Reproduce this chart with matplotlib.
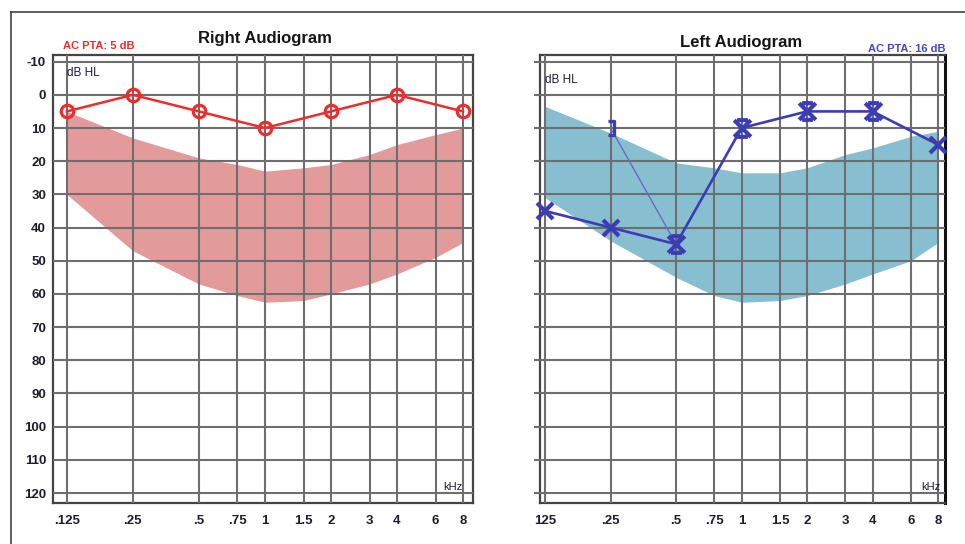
import numpy as np
import matplotlib
matplotlib.use("Agg")
import matplotlib.pyplot as plt
from matplotlib.path import Path
from matplotlib.lines import Line2D

plt.rcParams['font.family'] = ['Liberation Sans', 'DejaVu Sans']
plt.rcParams['axes.unicode_minus'] = False

# frequencies (kHz) and labels
freqs = [0.125, 0.25, 0.5, 0.75, 1, 1.5, 2, 3, 4, 6, 8]
freq_labels_r = [".125", ".25", ".5", ".75", "1", "1.5", "2", "3", "4", "6", "8"]
freq_labels_l = ["125", ".25", ".5", ".75", "1", "1.5", "2", "3", "4", "6", "8"]
db_ticks = [-10, 0, 10, 20, 30, 40, 50, 60, 70, 80, 90, 100, 110, 120]

# shaded range (upper / lower edge, dB HL) at each frequency
band_r_top = [5, 13, 19, 21, 23, 22, 21, 18, 15, 12, 10]
band_r_bot = [30, 47, 57, 60.5, 62.5, 62, 60, 57, 54, 49, 44.5]
band_l_top = [3.5, 11.5, 20.5, 22, 23.5, 23.5, 22, 18, 16, 12.5, 11]
band_l_bot = [31, 44, 55, 60.5, 62.5, 62, 60.5, 57, 54, 50, 44.5]

# right ear air conduction (circles)
right_f = [0.125, 0.25, 0.5, 1, 2, 4, 8]
right_db = [5, 0, 5, 10, 5, 0, 5]

# left ear air conduction (X)
left_f = [0.125, 0.25, 0.5, 1, 2, 4, 8]
left_db = [35, 40, 45, 10, 5, 5, 15]
left_masked = [False, False, True, True, True, True, False]

# left bone conduction
bone_f = [0.25, 0.5]
bone_db = [10, 45]

red = '#ec2d2d'
blue = '#3c3cb4'
grid_c = '#6e6e6e'
txt_c = '#1e1e2a'

hourglass = Path([(-1, -1), (1, 1), (-1, 1), (1, -1), (-0.65, 1), (0.65, 1), (-0.65, -1), (0.65, -1)],
                 [Path.MOVETO, Path.LINETO, Path.MOVETO, Path.LINETO,
                  Path.MOVETO, Path.LINETO, Path.MOVETO, Path.LINETO])
bracket = Path([(-0.5, 1), (0.5, 1), (0.5, -1), (-0.5, -1)],
               [Path.MOVETO, Path.LINETO, Path.LINETO, Path.LINETO])

fig = plt.figure(figsize=(9.65, 5.44), dpi=100)

# outer frame (left + top edge)
fig.add_artist(Line2D([11/965, 11/965], [0, 1 - 12/544], transform=fig.transFigure, color='#333', lw=1.1))
fig.add_artist(Line2D([11/965, 1], [1 - 12/544, 1 - 12/544], transform=fig.transFigure, color='#333', lw=1.1))

axR = fig.add_axes([53/965, 1 - 503/544, 420/965, 448/544])
axL = fig.add_axes([540/965, 1 - 503/544, 405/965, 448/544])

for ax, labels, xl in [(axR, freq_labels_r, (0.1081, 8.89)), (axL, freq_labels_l, (0.1184, 8.61))]:
    ax.set_xscale('log', base=2)
    ax.set_xlim(*xl)
    ax.set_ylim(123, -12)
    ax.set_xticks(freqs)
    ax.set_xticklabels(labels)
    ax.minorticks_off()
    ax.set_yticks(db_ticks)
    ax.grid(True, color=grid_c, lw=1.5)
    ax.set_axisbelow(False)
    for s in ax.spines.values():
        s.set_color('#444444')
        s.set_linewidth(1.6)
    ax.tick_params(axis='x', length=0, pad=9, labelsize=9.5, labelcolor=txt_c)
    ax.tick_params(axis='y', length=0, pad=5, labelsize=9.5, labelcolor=txt_c)
    for t in ax.get_xticklabels() + ax.get_yticklabels():
        t.set_fontweight('bold')

axL.tick_params(axis='y', labelleft=False, length=4, direction='out', color=grid_c, width=1.5)
axL.spines['right'].set_color('#111111')
axL.spines['right'].set_linewidth(2.2)

# right ear
axR.fill_between(freqs, band_r_top, band_r_bot, color='#e39a9a', lw=0, zorder=1)
axR.plot(right_f, right_db, color=red, lw=1.8, marker='o', ms=9, mfc='none', mec=red, mew=2.3,
         zorder=4, clip_on=False)

# left ear
axL.fill_between(freqs, band_l_top, band_l_bot, color='#88bfd0', lw=0, zorder=1)
axL.plot(bone_f, bone_db, color='#6a6ac8', lw=1.0, zorder=3)
axL.plot(left_f, left_db, color=blue, lw=1.9, zorder=4)
for f, d, m in zip(left_f, left_db, left_masked):
    axL.plot([f], [d], marker=hourglass if m else 'x', ms=12 if m else 11, mew=3, color=blue,
             zorder=5, clip_on=False)
axL.plot([bone_f[0]], [bone_db[0]], marker=bracket, ms=10, mew=2.4, color=blue, mfc='none',
         zorder=5)

# titles and annotations
fig.text(265/965, 1 - 38/544, "Right Audiogram", ha='center', va='center', fontsize=12,
         fontweight='bold', color='#151515')
fig.text(741/965, 1 - 42/544, "Left Audiogram", ha='center', va='center', fontsize=12,
         fontweight='bold', color='#151515')
fig.text(63/965, 1 - 46/544, "AC PTA: 5 dB", ha='left', va='center', fontsize=8, color=red,
         fontweight='bold')
fig.text(945/965, 1 - 49/544, "AC PTA: 16 dB", ha='right', va='center', fontsize=8, color='#4646c8',
         fontweight='bold')
fig.text(67/965, 1 - 73/544, "dB HL", ha='left', va='center', fontsize=8.5, color=txt_c)
fig.text(545/965, 1 - 80/544, "dB HL", ha='left', va='center', fontsize=8.5, color=txt_c)
fig.text(463/965, 1 - 487/544, "kHz", ha='right', va='center', fontsize=8, color=txt_c)
fig.text(940/965, 1 - 487/544, "kHz", ha='right', va='center', fontsize=8, color=txt_c)

fig.savefig("out.png", dpi=100)
